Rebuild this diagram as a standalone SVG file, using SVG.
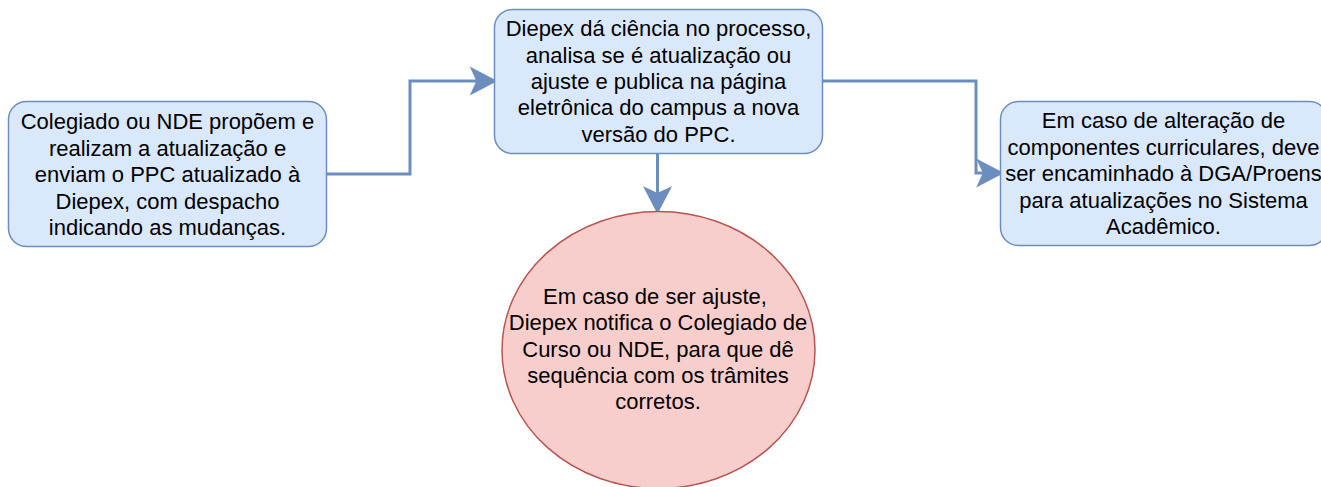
<svg xmlns="http://www.w3.org/2000/svg" width="1321" height="487" viewBox="0 0 1321 487">
<defs>
<style>
.box{fill:#dae8fc;stroke:#6c8ebf;stroke-width:1.5}
.ell{fill:#f8cecc;stroke:#b85450;stroke-width:1.5}
.edge{fill:none;stroke:#6c8ebf;stroke-width:3}
text{font-family:"Liberation Sans",Arial,sans-serif;font-size:22px;fill:#000;text-anchor:middle}
</style>
<marker id="arr" markerUnits="userSpaceOnUse" markerWidth="30" markerHeight="30" viewBox="-23 -12 25 24" refX="-16" refY="0" orient="auto">
<path d="M0,0 L-21,-11 L-16,0 L-21,11 Z" fill="#6c8ebf" stroke="#6c8ebf" stroke-width="1" stroke-linejoin="miter"/>
</marker>
</defs>
<rect width="1321" height="487" fill="#ffffff"/>
<g id="connectors">
<path class="edge" d="M326,174 H410 V81 H477" marker-end="url(#arr)"/>
<path class="edge" d="M657.5,153 V193.5" marker-end="url(#arr)"/>
<path class="edge" d="M823,81 H976 V173 H983.5" marker-end="url(#arr)"/>
</g>
<g id="n1">
<rect class="box" x="8.5" y="101.5" width="318" height="145" rx="18"/>
<text x="167.5" y="129.4">Colegiado ou NDE propõem e</text>
<text x="167.5" y="155.8">realizam a atualização e</text>
<text x="167.5" y="182.2">enviam o PPC atualizado à</text>
<text x="167.5" y="208.6">Diepex, com despacho</text>
<text x="167.5" y="235">indicando as mudanças.</text>
</g>
<g id="n2">
<rect class="box" x="494.5" y="9.5" width="328" height="144" rx="18"/>
<text x="658.5" y="36.2">Diepex dá ciência no processo,</text>
<text x="658.5" y="62.6">analisa se é atualização ou</text>
<text x="658.5" y="89">ajuste e publica na página</text>
<text x="658.5" y="115.4">eletrônica do campus a nova</text>
<text x="658.5" y="141.8">versão do PPC.</text>
</g>
<g id="n3">
<rect class="box" x="1000.5" y="101.5" width="327" height="144" rx="18"/>
<text x="1163.5" y="128.4">Em caso de alteração de</text>
<text x="1163.5" y="154.8">componentes curriculares, deve</text>
<text x="1163.5" y="181.2">ser encaminhado à DGA/Proens</text>
<text x="1163.5" y="207.6">para atualizações no Sistema</text>
<text x="1163.5" y="234">Acadêmico.</text>
</g>
<g id="n4">
<ellipse class="ell" cx="658.5" cy="350" rx="156.5" ry="138.5"/>
<text x="655" y="304">Em caso de ser ajuste,</text>
<text x="658" y="330.3">Diepex notifica o Colegiado de</text>
<text x="658" y="356.6">Curso ou NDE, para que dê</text>
<text x="658" y="382.9">sequência com os trâmites</text>
<text x="658" y="409.2">corretos.</text>
</g>
</svg>
